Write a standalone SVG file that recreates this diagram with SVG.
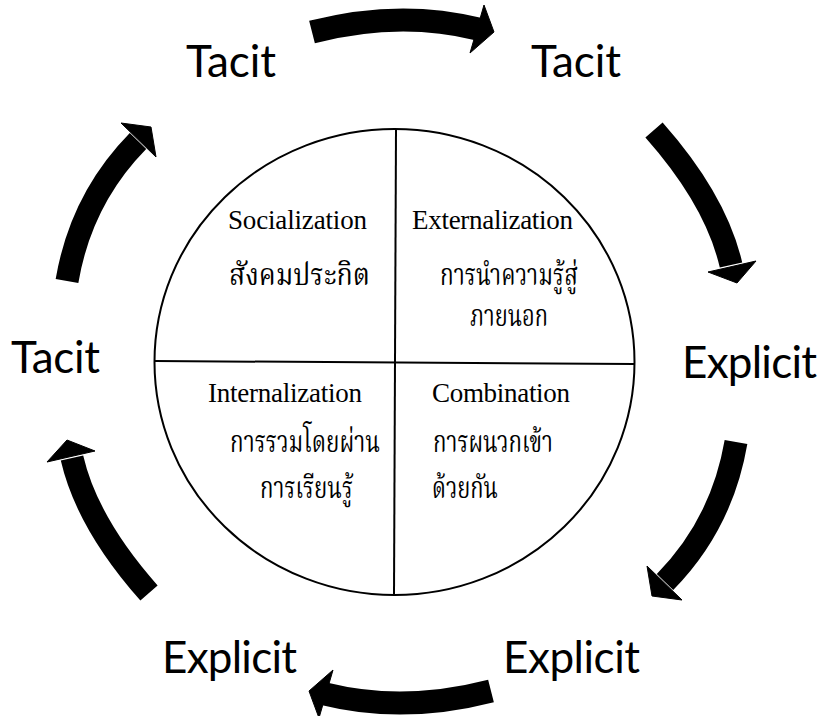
<svg xmlns="http://www.w3.org/2000/svg" width="825" height="716" viewBox="0 0 825 716">
<style>
.shaft{fill:none;stroke:#000;stroke-width:23;stroke-linecap:butt}
.head{fill:#000;stroke:#000;stroke-width:1;stroke-linejoin:miter}
.lbl{font-family:"Lato","Open Sans","Liberation Sans",sans-serif;font-size:44px;fill:#000}
.en{font-family:"Liberation Serif","Times New Roman",serif;font-size:27px;fill:#000}
.th{font-family:"Liberation Serif","Noto Serif Thai","Noto Sans Thai","Garuda","Loma",serif;font-size:30px;fill:#000}
.ln{fill:none;stroke:#000;stroke-width:2}
</style>
<rect width="825" height="716" fill="#fff"/>
<g id="circle">
<ellipse class="ln" cx="394.5" cy="362" rx="240" ry="233"/>
<line class="ln" x1="396" y1="129" x2="394" y2="595"/>
<line class="ln" x1="155" y1="361" x2="634" y2="364"/>
</g>
<g id="socialization">
<text class="en" x="228" y="229" textLength="139">Socialization</text>
<text class="th" x="229" y="285" textLength="141" lengthAdjust="spacingAndGlyphs">สังคมประกิต</text>
</g>
<g id="externalization">
<text class="en" x="412" y="229" textLength="161">Externalization</text>
<text class="th" x="440" y="285" textLength="138" lengthAdjust="spacingAndGlyphs">การนำความรู้สู่</text>
<text class="th" x="470" y="326" textLength="78" lengthAdjust="spacingAndGlyphs">ภายนอก</text>
</g>
<g id="internalization">
<text class="en" x="208" y="402" textLength="154">Internalization</text>
<text class="th" x="230" y="452" textLength="150" lengthAdjust="spacingAndGlyphs">การรวมโดยผ่าน</text>
<text class="th" x="260" y="498" textLength="93" lengthAdjust="spacingAndGlyphs">การเรียนรู้</text>
</g>
<g id="combination">
<text class="en" x="432" y="402" textLength="138">Combination</text>
<text class="th" x="433" y="452" textLength="120" lengthAdjust="spacingAndGlyphs">การผนวกเข้า</text>
<text class="th" x="432" y="498" textLength="66" lengthAdjust="spacingAndGlyphs">ด้วยกัน</text>
</g>
<g id="tacit-top-left"><text class="lbl" x="186" y="77" textLength="90">Tacit</text></g>
<g id="tacit-top-right"><text class="lbl" x="531" y="77" textLength="90">Tacit</text></g>
<g id="tacit-left"><text class="lbl" x="11" y="373" textLength="89">Tacit</text></g>
<g id="explicit-right"><text class="lbl" x="682" y="378" textLength="135">Explicit</text></g>
<g id="explicit-bottom-left"><text class="lbl" x="162" y="673" textLength="135">Explicit</text></g>
<g id="explicit-bottom-right"><text class="lbl" x="503" y="673" textLength="137">Explicit</text></g>
<g id="connectors">
<path class="shaft" d="M312,32 Q399.5,9.5 478,29"/>
<polygon class="head" points="484,5 494,32 470,53"/>
<path class="shaft" d="M654,130 Q716,200 731,265"/>
<polygon class="head" points="708,272 737,283 756,261"/>
<path class="shaft" d="M736,442 Q722,524 665,582"/>
<polygon class="head" points="647,566 652,596 682,600"/>
<path class="shaft" d="M491,691 Q403.5,713.5 325,694"/>
<polygon class="head" points="319,718 309,691 333,670"/>
<path class="shaft" d="M149,593 Q87,523 72,458"/>
<polygon class="head" points="95,451 67,440 47,462"/>
<path class="shaft" d="M67,281 Q81,199 138,141"/>
<polygon class="head" points="156,157 151,127 121,123"/>
</g>
</svg>
